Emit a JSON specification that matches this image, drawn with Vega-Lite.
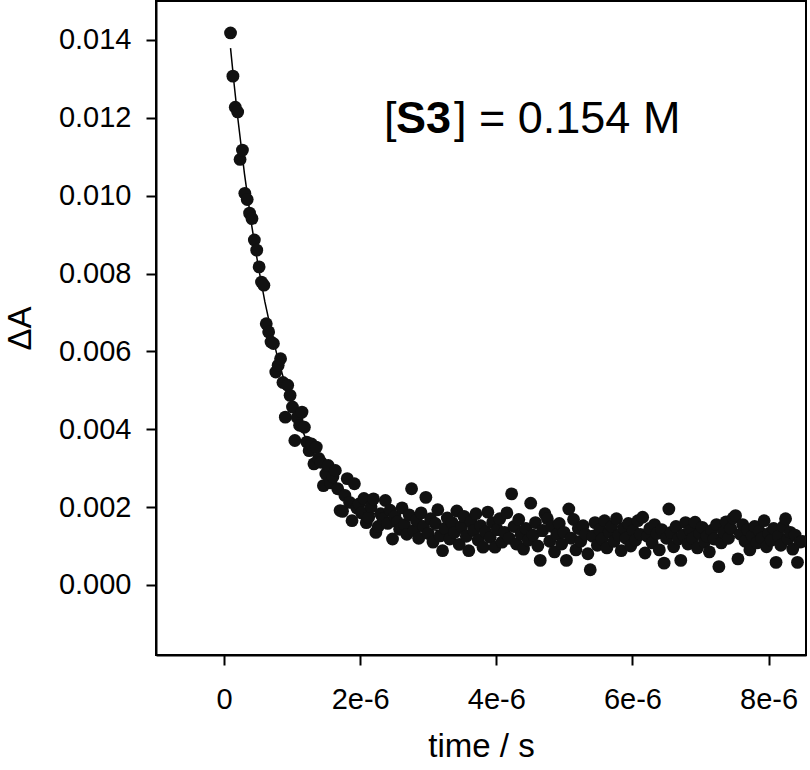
{
  "$schema": "https://vega.github.io/schema/vega-lite/v6.json",
  "width": 650,
  "height": 654,
  "autosize": {"type": "none"},
  "padding": {"left": 156, "top": 1, "right": 4, "bottom": 115},
  "background": "white",
  "config": {
    "view": {"stroke": "black", "strokeWidth": 2},
    "font": "Liberation Sans",
    "axis": {
      "grid": false,
      "domainColor": "black",
      "domainWidth": 2,
      "tickColor": "black",
      "tickWidth": 2,
      "tickSize": 10,
      "labelFont": "Liberation Sans",
      "labelFontSize": 29,
      "labelColor": "black",
      "titleFont": "Liberation Sans",
      "titleFontSize": 33,
      "titleFontWeight": "normal",
      "titleColor": "black"
    }
  },
  "datasets": {
    "obs": [
      {"t":0.095e-6,"dA":0.01418},{"t":0.130e-6,"dA":0.01307},{"t":0.165e-6,"dA":0.01227},{"t":0.200e-6,"dA":0.01215},
      {"t":0.235e-6,"dA":0.01093},{"t":0.270e-6,"dA":0.01117},{"t":0.305e-6,"dA":0.01006},{"t":0.340e-6,"dA":0.00990},
      {"t":0.375e-6,"dA":0.00955},{"t":0.410e-6,"dA":0.00941},{"t":0.445e-6,"dA":0.00886},{"t":0.480e-6,"dA":0.00860},
      {"t":0.515e-6,"dA":0.00817},{"t":0.550e-6,"dA":0.00778},{"t":0.585e-6,"dA":0.00770},{"t":0.620e-6,"dA":0.00671},
      {"t":0.655e-6,"dA":0.00650},{"t":0.690e-6,"dA":0.00624},{"t":0.725e-6,"dA":0.00620},{"t":0.760e-6,"dA":0.00547},
      {"t":0.795e-6,"dA":0.00564},{"t":0.830e-6,"dA":0.00581},{"t":0.865e-6,"dA":0.00520},{"t":0.900e-6,"dA":0.00431},
      {"t":0.935e-6,"dA":0.00513},{"t":0.970e-6,"dA":0.00487},{"t":1.005e-6,"dA":0.00457},{"t":1.040e-6,"dA":0.00371},
      {"t":1.075e-6,"dA":0.00430},{"t":1.110e-6,"dA":0.00410},{"t":1.145e-6,"dA":0.00444},{"t":1.180e-6,"dA":0.00405},
      {"t":1.215e-6,"dA":0.00367},{"t":1.250e-6,"dA":0.00345},{"t":1.285e-6,"dA":0.00362},{"t":1.320e-6,"dA":0.00311},
      {"t":1.355e-6,"dA":0.00354},{"t":1.390e-6,"dA":0.00325},{"t":1.425e-6,"dA":0.00315},{"t":1.460e-6,"dA":0.00255},
      {"t":1.495e-6,"dA":0.00285},{"t":1.530e-6,"dA":0.00307},{"t":1.565e-6,"dA":0.00262},{"t":1.600e-6,"dA":0.00278},
      {"t":1.635e-6,"dA":0.00294},{"t":1.670e-6,"dA":0.00247},{"t":1.705e-6,"dA":0.00191},{"t":1.740e-6,"dA":0.00189},
      {"t":1.775e-6,"dA":0.00230},{"t":1.810e-6,"dA":0.00273},{"t":1.845e-6,"dA":0.00212},{"t":1.880e-6,"dA":0.00165},
      {"t":1.915e-6,"dA":0.00260},{"t":1.950e-6,"dA":0.00198},{"t":1.985e-6,"dA":0.00208},{"t":2.020e-6,"dA":0.00185},
      {"t":2.055e-6,"dA":0.00222},{"t":2.090e-6,"dA":0.00160},{"t":2.125e-6,"dA":0.00174},{"t":2.160e-6,"dA":0.00201},
      {"t":2.195e-6,"dA":0.00221},{"t":2.230e-6,"dA":0.00135},{"t":2.265e-6,"dA":0.00150},{"t":2.300e-6,"dA":0.00183},
      {"t":2.335e-6,"dA":0.00170},{"t":2.370e-6,"dA":0.00217},{"t":2.405e-6,"dA":0.00158},{"t":2.440e-6,"dA":0.00192},
      {"t":2.475e-6,"dA":0.00118},{"t":2.510e-6,"dA":0.00176},{"t":2.545e-6,"dA":0.00162},{"t":2.580e-6,"dA":0.00143},
      {"t":2.615e-6,"dA":0.00198},{"t":2.650e-6,"dA":0.00155},{"t":2.685e-6,"dA":0.00130},{"t":2.720e-6,"dA":0.00180},
      {"t":2.755e-6,"dA":0.00247},{"t":2.790e-6,"dA":0.00140},{"t":2.825e-6,"dA":0.00166},{"t":2.860e-6,"dA":0.00120},
      {"t":2.895e-6,"dA":0.00185},{"t":2.930e-6,"dA":0.00150},{"t":2.965e-6,"dA":0.00225},{"t":3.000e-6,"dA":0.00132},
      {"t":3.035e-6,"dA":0.00170},{"t":3.070e-6,"dA":0.00110},{"t":3.105e-6,"dA":0.00158},{"t":3.140e-6,"dA":0.00193},
      {"t":3.175e-6,"dA":0.00126},{"t":3.210e-6,"dA":0.00088},{"t":3.245e-6,"dA":0.00145},{"t":3.280e-6,"dA":0.00172},
      {"t":3.315e-6,"dA":0.00118},{"t":3.350e-6,"dA":0.00160},{"t":3.385e-6,"dA":0.00135},{"t":3.420e-6,"dA":0.00190},
      {"t":3.455e-6,"dA":0.00104},{"t":3.490e-6,"dA":0.00150},{"t":3.525e-6,"dA":0.00176},{"t":3.560e-6,"dA":0.00125},
      {"t":3.595e-6,"dA":0.00088},{"t":3.630e-6,"dA":0.00162},{"t":3.665e-6,"dA":0.00140},{"t":3.700e-6,"dA":0.00183},
      {"t":3.735e-6,"dA":0.00115},{"t":3.770e-6,"dA":0.00152},{"t":3.805e-6,"dA":0.00097},{"t":3.840e-6,"dA":0.00136},
      {"t":3.875e-6,"dA":0.00187},{"t":3.910e-6,"dA":0.00122},{"t":3.945e-6,"dA":0.00160},{"t":3.980e-6,"dA":0.00097},
      {"t":4.015e-6,"dA":0.00142},{"t":4.050e-6,"dA":0.00170},{"t":4.085e-6,"dA":0.00110},{"t":4.120e-6,"dA":0.00135},
      {"t":4.155e-6,"dA":0.00185},{"t":4.190e-6,"dA":0.00120},{"t":4.225e-6,"dA":0.00234},{"t":4.260e-6,"dA":0.00150},
      {"t":4.295e-6,"dA":0.00105},{"t":4.330e-6,"dA":0.00168},{"t":4.365e-6,"dA":0.00130},{"t":4.400e-6,"dA":0.00092},
      {"t":4.435e-6,"dA":0.00145},{"t":4.470e-6,"dA":0.00115},{"t":4.505e-6,"dA":0.00210},{"t":4.540e-6,"dA":0.00128},
      {"t":4.575e-6,"dA":0.00160},{"t":4.610e-6,"dA":0.00100},{"t":4.645e-6,"dA":0.00063},{"t":4.680e-6,"dA":0.00140},
      {"t":4.715e-6,"dA":0.00183},{"t":4.750e-6,"dA":0.00170},{"t":4.785e-6,"dA":0.00112},{"t":4.820e-6,"dA":0.00150},
      {"t":4.855e-6,"dA":0.00085},{"t":4.890e-6,"dA":0.00130},{"t":4.925e-6,"dA":0.00158},{"t":4.960e-6,"dA":0.00105},
      {"t":4.995e-6,"dA":0.00135},{"t":5.030e-6,"dA":0.00063},{"t":5.065e-6,"dA":0.00195},{"t":5.100e-6,"dA":0.00120},
      {"t":5.135e-6,"dA":0.00168},{"t":5.170e-6,"dA":0.00090},{"t":5.205e-6,"dA":0.00145},{"t":5.240e-6,"dA":0.00112},
      {"t":5.275e-6,"dA":0.00152},{"t":5.310e-6,"dA":0.00130},{"t":5.345e-6,"dA":0.00080},{"t":5.380e-6,"dA":0.00039},
      {"t":5.415e-6,"dA":0.00125},{"t":5.450e-6,"dA":0.00160},{"t":5.485e-6,"dA":0.00102},{"t":5.520e-6,"dA":0.00142},
      {"t":5.555e-6,"dA":0.00118},{"t":5.590e-6,"dA":0.00165},{"t":5.625e-6,"dA":0.00095},{"t":5.660e-6,"dA":0.00136},
      {"t":5.695e-6,"dA":0.00150},{"t":5.730e-6,"dA":0.00112},{"t":5.765e-6,"dA":0.00170},{"t":5.800e-6,"dA":0.00128},
      {"t":5.835e-6,"dA":0.00088},{"t":5.870e-6,"dA":0.00146},{"t":5.905e-6,"dA":0.00120},{"t":5.940e-6,"dA":0.00158},
      {"t":5.975e-6,"dA":0.00100},{"t":6.010e-6,"dA":0.00140},{"t":6.045e-6,"dA":0.00115},{"t":6.080e-6,"dA":0.00165},
      {"t":6.115e-6,"dA":0.00130},{"t":6.150e-6,"dA":0.00174},{"t":6.185e-6,"dA":0.00082},{"t":6.220e-6,"dA":0.00125},
      {"t":6.255e-6,"dA":0.00145},{"t":6.290e-6,"dA":0.00108},{"t":6.325e-6,"dA":0.00155},{"t":6.360e-6,"dA":0.00132},
      {"t":6.395e-6,"dA":0.00090},{"t":6.430e-6,"dA":0.00142},{"t":6.465e-6,"dA":0.00056},{"t":6.500e-6,"dA":0.00120},
      {"t":6.535e-6,"dA":0.00195},{"t":6.570e-6,"dA":0.00135},{"t":6.605e-6,"dA":0.00098},{"t":6.640e-6,"dA":0.00150},
      {"t":6.675e-6,"dA":0.00118},{"t":6.710e-6,"dA":0.00063},{"t":6.745e-6,"dA":0.00128},{"t":6.780e-6,"dA":0.00160},
      {"t":6.815e-6,"dA":0.00105},{"t":6.850e-6,"dA":0.00140},{"t":6.885e-6,"dA":0.00120},{"t":6.920e-6,"dA":0.00161},
      {"t":6.955e-6,"dA":0.00095},{"t":6.990e-6,"dA":0.00132},{"t":7.025e-6,"dA":0.00148},{"t":7.060e-6,"dA":0.00110},
      {"t":7.095e-6,"dA":0.00125},{"t":7.130e-6,"dA":0.00085},{"t":7.165e-6,"dA":0.00140},{"t":7.200e-6,"dA":0.00118},
      {"t":7.235e-6,"dA":0.00155},{"t":7.270e-6,"dA":0.00047},{"t":7.305e-6,"dA":0.00108},{"t":7.340e-6,"dA":0.00135},
      {"t":7.375e-6,"dA":0.00162},{"t":7.410e-6,"dA":0.00120},{"t":7.445e-6,"dA":0.00145},{"t":7.480e-6,"dA":0.00172},
      {"t":7.515e-6,"dA":0.00178},{"t":7.550e-6,"dA":0.00067},{"t":7.585e-6,"dA":0.00130},{"t":7.620e-6,"dA":0.00155},
      {"t":7.655e-6,"dA":0.00112},{"t":7.690e-6,"dA":0.00142},{"t":7.725e-6,"dA":0.00090},{"t":7.760e-6,"dA":0.00125},
      {"t":7.795e-6,"dA":0.00150},{"t":7.830e-6,"dA":0.00108},{"t":7.865e-6,"dA":0.00138},{"t":7.900e-6,"dA":0.00120},
      {"t":7.935e-6,"dA":0.00165},{"t":7.970e-6,"dA":0.00098},{"t":8.005e-6,"dA":0.00132},{"t":8.040e-6,"dA":0.00115},
      {"t":8.075e-6,"dA":0.00145},{"t":8.110e-6,"dA":0.00058},{"t":8.145e-6,"dA":0.00125},{"t":8.180e-6,"dA":0.00102},
      {"t":8.215e-6,"dA":0.00150},{"t":8.250e-6,"dA":0.00170},{"t":8.285e-6,"dA":0.00118},{"t":8.320e-6,"dA":0.00135},
      {"t":8.355e-6,"dA":0.00092},{"t":8.390e-6,"dA":0.00128},{"t":8.425e-6,"dA":0.00058},{"t":8.460e-6,"dA":0.00110},
      {"t":8.495e-6,"dA":0.00112}
    ],
    "fit": [
      {"t":0.095e-6,"dA":0.01379},{"t":0.15e-6,"dA":0.01283},{"t":0.2e-6,"dA":0.01202},{"t":0.3e-6,"dA":0.01056},
      {"t":0.4e-6,"dA":0.00930},{"t":0.5e-6,"dA":0.00821},{"t":0.6e-6,"dA":0.00727},{"t":0.7e-6,"dA":0.00646},
      {"t":0.8e-6,"dA":0.00575},{"t":0.9e-6,"dA":0.00515},{"t":1.0e-6,"dA":0.00462},{"t":1.1e-6,"dA":0.00416},
      {"t":1.2e-6,"dA":0.00377},{"t":1.3e-6,"dA":0.00343},{"t":1.4e-6,"dA":0.00313},{"t":1.5e-6,"dA":0.00288},
      {"t":1.6e-6,"dA":0.00266},{"t":1.8e-6,"dA":0.00230},{"t":2.0e-6,"dA":0.00203},{"t":2.25e-6,"dA":0.00179},
      {"t":2.5e-6,"dA":0.00162},{"t":2.75e-6,"dA":0.00151},{"t":3.0e-6,"dA":0.00143},{"t":3.5e-6,"dA":0.00133},
      {"t":4.0e-6,"dA":0.00128},{"t":4.5e-6,"dA":0.00126},{"t":5.0e-6,"dA":0.00125},{"t":6.0e-6,"dA":0.00124},
      {"t":7.0e-6,"dA":0.00124},{"t":8.55e-6,"dA":0.00124}
    ]
  },
  "layer": [
    {
      "data": {"name": "fit"},
      "mark": {"type": "line", "color": "black", "strokeWidth": 1.5, "clip": true},
      "encoding": {
        "x": {
          "field": "t", "type": "quantitative",
          "scale": {"domain": [-1e-6, 8.55e-6], "nice": false, "zero": false},
          "axis": {
            "title": "time / s",
            "values": [0, 2e-6, 4e-6, 6e-6, 8e-6],
            "labelExpr": "datum.value == 0 ? '0' : format(datum.value, '.0e')",
            "labelPadding": 20,
            "titlePadding": 16
          }
        },
        "y": {
          "field": "dA", "type": "quantitative",
          "scale": {"domain": [-0.0018, 0.015], "nice": false, "zero": false},
          "axis": {
            "title": "ΔA",
            "values": [0, 0.002, 0.004, 0.006, 0.008, 0.01, 0.012, 0.014],
            "format": ".3f",
            "labelPadding": 15,
            "titlePadding": 21
          }
        }
      }
    },
    {
      "data": {"name": "obs"},
      "mark": {"type": "circle", "size": 165, "color": "#111111", "opacity": 1, "clip": true},
      "encoding": {
        "x": {"field": "t", "type": "quantitative"},
        "y": {"field": "dA", "type": "quantitative"}
      }
    },
    {
      "data": {"values": [{"label": "["}]},
      "mark": {"type": "text", "font": "Liberation Sans", "fontSize": 45, "align": "left", "baseline": "alphabetic", "color": "black"},
      "encoding": {
        "x": {"datum": 2.35e-6, "type": "quantitative"},
        "y": {"datum": 0.01161, "type": "quantitative"},
        "text": {"field": "label"}
      }
    },
    {
      "data": {"values": [{"label": "S3"}]},
      "mark": {"type": "text", "font": "Liberation Sans", "fontSize": 45, "fontWeight": "bold", "align": "left", "baseline": "alphabetic", "color": "black"},
      "encoding": {
        "x": {"datum": 2.525e-6, "type": "quantitative"},
        "y": {"datum": 0.01161, "type": "quantitative"},
        "text": {"field": "label"}
      }
    },
    {
      "data": {"values": [{"label": "] = 0.154 M"}]},
      "mark": {"type": "text", "font": "Liberation Sans", "fontSize": 45, "align": "left", "baseline": "alphabetic", "color": "black"},
      "encoding": {
        "x": {"datum": 3.378e-6, "type": "quantitative"},
        "y": {"datum": 0.01161, "type": "quantitative"},
        "text": {"field": "label"}
      }
    }
  ]
}
